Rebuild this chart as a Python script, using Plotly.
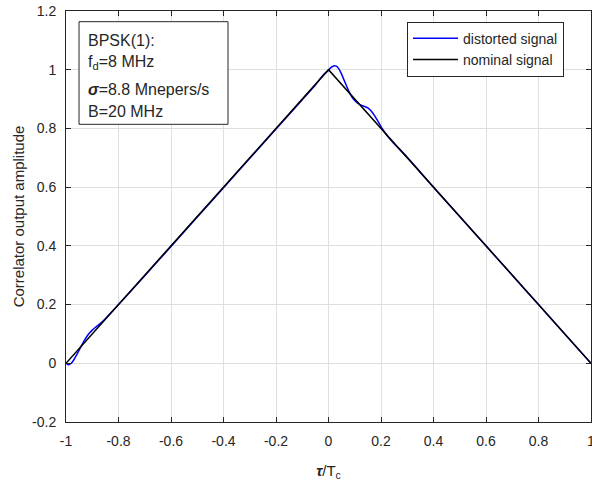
import plotly.graph_objects as go

# Normalised code delay (tau / Tc) and correlator outputs
tau_nominal = [-1.0, 0.0, 1.0]
amp_nominal = [0.0, 1.0, 0.0]

tau_distorted = [
    -1.00, -0.99, -0.98, -0.97, -0.96, -0.95, -0.94, -0.93, -0.92, -0.91,
    -0.90, -0.89, -0.88, -0.87, -0.86, -0.85, -0.84, -0.83, -0.82, -0.80,
    -0.75, -0.70, -0.60, -0.50, -0.40, -0.30, -0.20, -0.10, -0.05, -0.02,
    0.00, 0.01, 0.02, 0.03, 0.04, 0.05, 0.06, 0.07, 0.08, 0.09,
    0.10, 0.11, 0.12, 0.13, 0.14, 0.15, 0.16, 0.17, 0.18, 0.19,
    0.20, 0.21, 0.22, 0.23, 0.25, 0.30, 0.35, 0.40, 0.50, 0.60,
    0.70, 0.80, 0.90, 1.00,
]
amp_distorted = [
    0.000, -0.005, 0.000, 0.012, 0.028, 0.045, 0.062, 0.078, 0.092, 0.104,
    0.113, 0.121, 0.128, 0.135, 0.143, 0.152, 0.161, 0.171, 0.181, 0.200,
    0.249, 0.298, 0.398, 0.498, 0.598, 0.698, 0.798, 0.898, 0.948, 0.982,
    0.998, 1.008, 1.013, 1.012, 1.002, 0.985, 0.963, 0.942, 0.922, 0.906,
    0.895, 0.887, 0.881, 0.877, 0.874, 0.870, 0.862, 0.851, 0.837, 0.822,
    0.806, 0.792, 0.779, 0.768, 0.748, 0.702, 0.651, 0.600, 0.500, 0.400,
    0.300, 0.200, 0.100, 0.000,
]

x_ticks = [-1, -0.8, -0.6, -0.4, -0.2, 0, 0.2, 0.4, 0.6, 0.8, 1]
x_tick_text = ["-1", "-0.8", "-0.6", "-0.4", "-0.2", "0", "0.2", "0.4", "0.6", "0.8", "1"]
y_ticks = [-0.2, 0, 0.2, 0.4, 0.6, 0.8, 1, 1.2]
y_tick_text = ["-0.2", "0", "0.2", "0.4", "0.6", "0.8", "1", "1.2"]

info_lines = [
    "BPSK(1):",
    "f<sub>d</sub>=8 MHz",
    "<b><i>σ</i></b>=8.8 Mnepers/s",
    "B=20 MHz",
]

FONT = "Liberation Sans, Arial, sans-serif"
INK = "#262626"

fig = go.Figure()
fig.add_trace(go.Scatter(
    x=tau_distorted, y=amp_distorted, mode="lines", name="distorted signal",
    line=dict(color="#0000ff", width=1.5, shape="spline", smoothing=0.6),
))
fig.add_trace(go.Scatter(
    x=tau_nominal, y=amp_nominal, mode="lines", name="nominal signal",
    line=dict(color="#000000", width=1.5),
))

axis_common = dict(
    showgrid=True, gridcolor="#dfdfdf", gridwidth=1,
    zeroline=False, showline=True, linecolor=INK, linewidth=1,
    mirror="ticks", ticks="inside", ticklen=5, tickcolor=INK,
    tickfont=dict(family=FONT, size=14, color=INK),
    ticklabeloverflow="allow", automargin=False,
)

fig.update_xaxes(
    range=[-1, 1], tickvals=x_ticks, ticktext=x_tick_text,
    ticklabelstandoff=6,
    title=dict(text="<b><i>τ</i></b>/T<sub>c</sub>", font=dict(family=FONT, size=15, color=INK), standoff=17),
    **axis_common,
)
fig.update_yaxes(
    range=[-0.2, 1.2], tickvals=y_ticks, ticktext=y_tick_text,
    ticklabelstandoff=6,
    title=dict(text="Correlator output amplitude", font=dict(family=FONT, size=15, color=INK), standoff=3),
    **axis_common,
)

# Parameter box in the upper-left corner
fig.add_shape(type="rect", xref="paper", yref="paper",
              x0=0.0248, x1=0.3086, y0=0.7243, y1=0.974,
              line=dict(color=INK, width=1), fillcolor="white", layer="above")
line_y = [0.9294, 0.8740, 0.8080, 0.7560]
for txt, yy in zip(info_lines, line_y):
    fig.add_annotation(text=txt, xref="paper", yref="paper", x=0.0381, y=yy,
                       xanchor="left", yanchor="middle", showarrow=False,
                       font=dict(family=FONT, size=16, color=INK))

fig.update_layout(
    width=592, height=483,
    margin=dict(l=66, r=1, t=11, b=61),
    plot_bgcolor="white", paper_bgcolor="white",
    font=dict(family=FONT, color=INK),
    legend=dict(
        x=0.9486, y=0.974, xanchor="right", yanchor="top",
        bgcolor="white", bordercolor=INK, borderwidth=1,
        font=dict(family=FONT, size=14, color=INK),
        tracegroupgap=0, itemwidth=45,
    ),
    showlegend=True,
)

fig.write_html("out.html")
